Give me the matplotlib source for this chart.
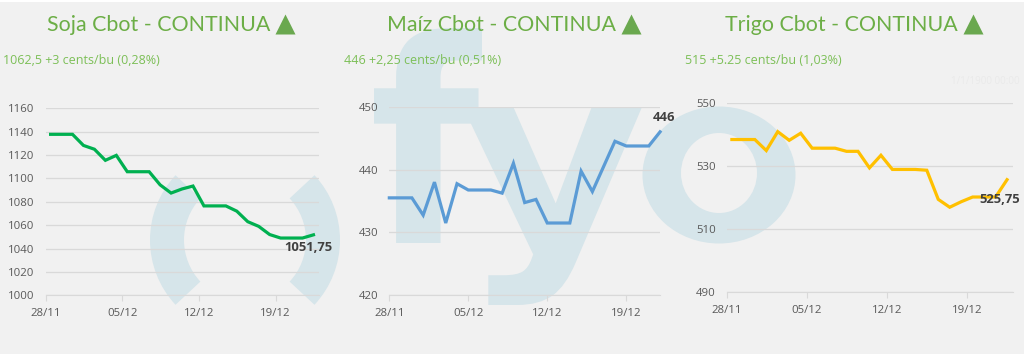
import numpy as np
import matplotlib
matplotlib.use("Agg")
from matplotlib import pyplot as plt
from matplotlib.textpath import TextPath
from matplotlib.font_manager import FontProperties
from matplotlib.patches import PathPatch, Wedge, Ellipse
from matplotlib.transforms import Affine2D

# Data (daily closes, weekends repeat Friday's value)
tickLabels = ["28/11", "05/12", "12/12", "19/12"]
tickDays = [0, 7, 14, 21]

soja = [1137.75, 1137.75, 1137.75, 1128.25, 1125, 1115.5, 1119.75, 1105.75, 1105.75, 1105.75,
        1094.5, 1087.5, 1091, 1093.5, 1076.5, 1076.5, 1076.5, 1072, 1063, 1059,
        1052, 1049, 1049, 1049, 1051.75]
maiz = [435.5, 435.5, 435.5, 432.75, 438, 431.5, 437.75, 436.75, 436.75, 436.75,
        436.25, 441, 434.75, 435.25, 431.5, 431.5, 431.5, 439.75, 436.5, 440.5,
        444.5, 443.75, 443.75, 443.75, 446]
trigo = [538.5, 538.5, 538.5, 535, 541, 538.25, 540.5, 535.75, 535.75, 535.75,
         534.75, 534.75, 529.5, 533.5, 529, 529, 529, 528.75, 519.5, 517,
         518.75, 520.25, 520.25, 520.25, 525.75]

titles = ["Soja Cbot - CONTINUA", "Maíz Cbot - CONTINUA", "Trigo Cbot - CONTINUA"]
subtitles = ["1062,5 +3 cents/bu (0,28%)", "446 +2,25 cents/bu (0,51%)", "515 +5.25 cents/bu (1,03%)"]
lastLabels = ["1051,75", "446", "525,75"]

bg = "#f1f1f1"
green = "#6cae46"
wm = "#d6e5ea"
font = ["Open Sans", "DejaVu Sans"]

fig = plt.figure(figsize=(10.24, 3.54), dpi=100, facecolor=bg)
renderer = fig.canvas.get_renderer()

# watermark layer, pixel coordinates
wmax = fig.add_axes([0, 0, 1, 1], zorder=0)
wmax.set_xlim(0, 1024)
wmax.set_ylim(354, 0)
wmax.axis("off")
wmax.axhline(0.5, color="white", lw=1.5)

def glyph(ch, x0, x1, y0, y1):
    tp = TextPath((0, 0), ch, size=100, prop=FontProperties(family="DejaVu Sans", weight="bold"))
    ext = tp.get_extents()
    tr = Affine2D().translate(-ext.x0, -ext.y0).scale((x1 - x0) / ext.width, -(y1 - y0) / ext.height).translate(x0, y1)
    wmax.add_patch(PathPatch(tr.transform_path(tp), fc=wm, ec="none"))

glyph("f", 374, 482, 28, 243)
glyph("y", 463, 642, 107, 305)
wmax.add_patch(Ellipse((719, 175), 153, 137, fc=wm, ec="none"))
wmax.add_patch(Ellipse((719, 173), 76, 80, fc=bg, ec="none"))
wmax.add_patch(Wedge((245, 240), 95, 137, 223, width=34, fc=wm, ec="none"))
wmax.add_patch(Wedge((245, 240), 95, -43, 43, width=34, fc=wm, ec="none"))

# chart panels: (rect, series, color, xoffset, xmax, ylim, yticks, label offset)
panels = [
    ([0.0446, 0.1658, 0.2674, 0.5282], soja, "#00b050", 0.45, 25, (1000, 1160), np.arange(1000, 1161, 20), (-4, -9)),
    ([0.3802, 0.1658, 0.2644, 0.5328], maiz, "#5b9bd5", 0.0, 24, (420, 450), np.arange(420, 451, 10), (3, 10)),
    ([0.7097, 0.1743, 0.2799, 0.5339], trigo, "#ffc000", 0.45, 25, (490, 550), np.arange(490, 551, 20), (-5, -14)),
]
titleX = [47, 387, 725]
subX = [3, 344, 685]

for i, (rect, vals, col, xoff, xmax, ylim, yticks, loff) in enumerate(panels):
    ax = fig.add_axes(rect, zorder=1)
    ax.set_facecolor("none")
    x = np.arange(len(vals)) + xoff
    ax.plot(x, vals, color=col, lw=2.3, solid_joinstyle="miter", clip_on=False, zorder=3)
    ax.set_xlim(0, xmax)
    ax.set_ylim(*ylim)
    ax.set_yticks(yticks)
    ax.set_xticks(tickDays)
    ax.set_xticklabels(tickLabels)
    ax.grid(axis="y", color="#d9d9d9", lw=0.9)
    for s in ["top", "right", "left"]:
        ax.spines[s].set_visible(False)
    ax.spines["bottom"].set_color("#d9d9d9")
    ax.tick_params(axis="y", length=0, pad=8, labelsize=8.2, labelcolor="#595959")
    ax.tick_params(axis="x", length=4, color="#d9d9d9", pad=5, labelsize=8.2, labelcolor="#595959")
    for t in ax.get_xticklabels() + ax.get_yticklabels():
        t.set_family(font)
    ax.annotate(lastLabels[i], (x[-1], vals[-1]), xytext=loff, textcoords="offset points",
                ha="center", va="center", fontsize=9.4, fontweight="bold", color="#404040",
                family=font, annotation_clip=False, zorder=4)

    t = fig.text(titleX[i] / 1024, 1 - 25 / 354, titles[i], ha="left", va="center",
                 fontsize=15.4, color=green, family=["Lato", "DejaVu Sans"])
    right = t.get_window_extent(renderer).x1
    wmax.plot(right + 15, 24, marker="^", ms=14, color="#6aa84f", mec="none")
    fig.text(subX[i] / 1024, 1 - 61 / 354, subtitles[i], ha="left", va="center",
             fontsize=9, color="#7cbf57", family=font)

fig.text(1020 / 1024, 1 - 82 / 354, "1/1/1900 00:00", ha="right", va="center",
         fontsize=7, color="#eaeaea", family=font)

fig.savefig("out.png", dpi=100, facecolor=bg)
